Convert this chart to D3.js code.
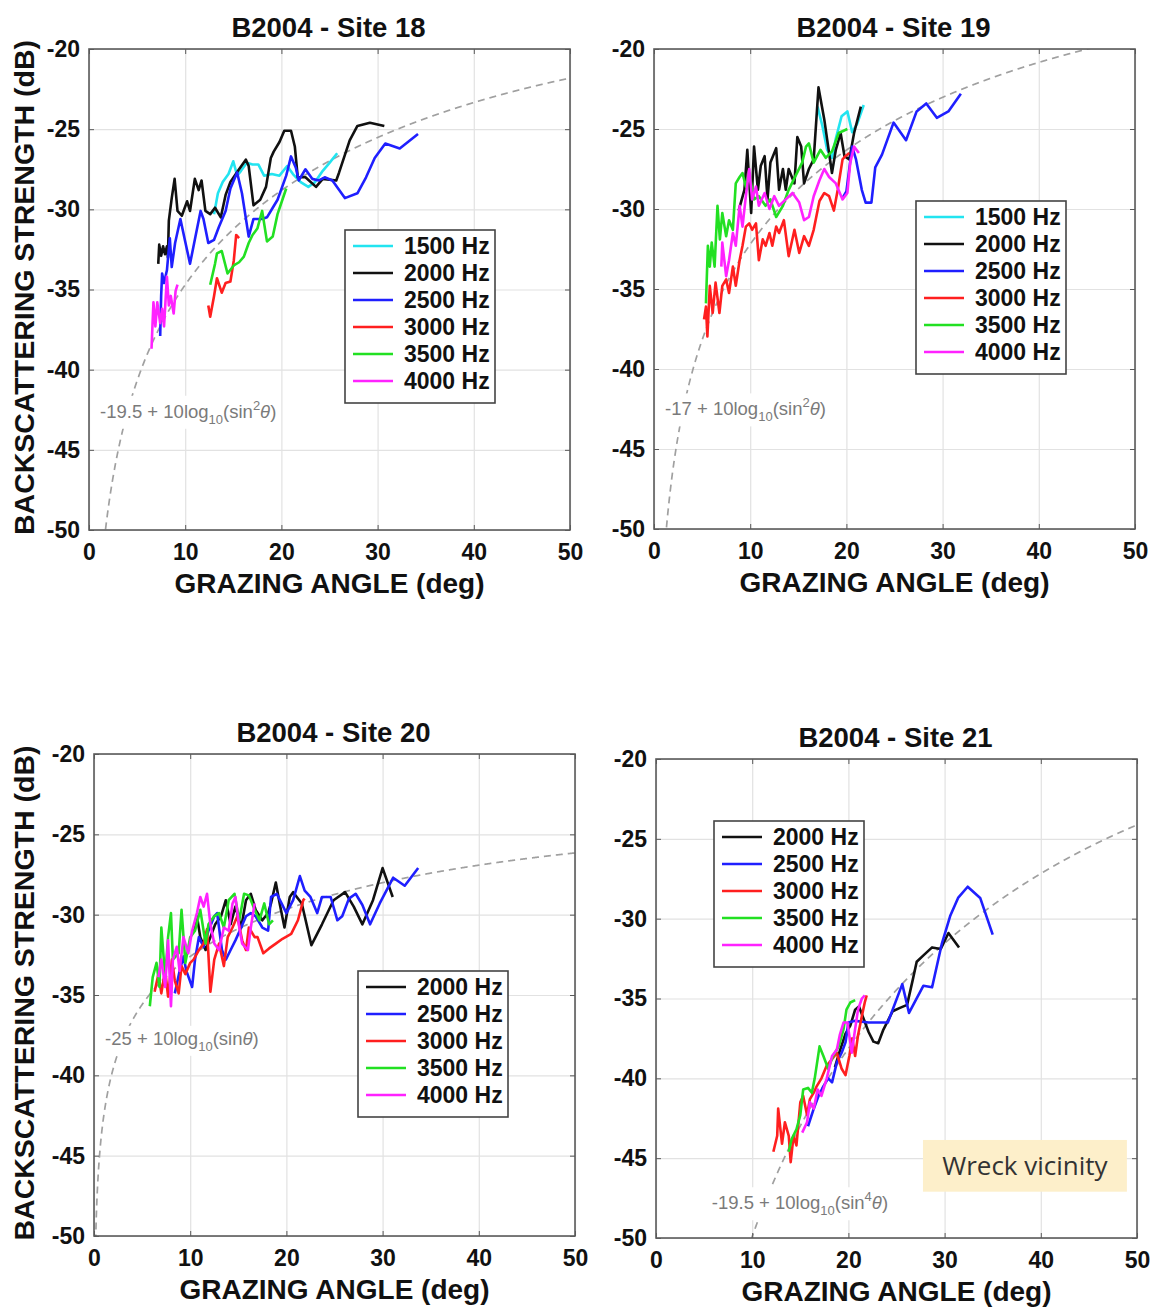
<!DOCTYPE html>
<html>
<head>
<meta charset="utf-8">
<script src="https://cdnjs.cloudflare.com/ajax/libs/d3/7.8.5/d3.min.js"></script>
<style>
  body { margin: 0; background: #fff; }
  text { font-family: "Liberation Sans", Arial, sans-serif; }
</style>
</head>
<body>
<svg id="chart" width="1156" height="1309"></svg>
<script>
const siteTitles = ["B2004 - Site 18", "B2004 - Site 19", "B2004 - Site 20", "B2004 - Site 21"];
const freqLabels = ["1500 Hz", "2000 Hz", "2500 Hz", "3000 Hz", "3500 Hz", "4000 Hz"];
const freqColors = ["#22e4f0", "#111111", "#1f1fff", "#ff1f1f", "#22e022", "#ff22ff"];
const xTicks = [0, 10, 20, 30, 40, 50];
const yTicks = [-20, -25, -30, -35, -40, -45, -50];
const modelOffset = [-19.5, -17, -25, -19.5];
const modelPower = [2, 2, 1, 4];
const noteOffsetText = ["-19.5", "-17", "-25", "-19.5"];
const notePowerText = ["2", "2", "", "4"];

// Site 18
const s18_1500 = [[13.0,-30.3],[13.4,-29.0],[13.9,-28.3],[14.5,-27.8],[15.0,-27.0],[15.4,-27.9],[15.8,-27.6],[16.4,-27.1],[17.0,-27.2],[17.6,-27.2],[18.2,-27.9],[19.0,-27.8],[19.8,-27.9],[20.6,-27.3],[21.2,-27.8],[22.0,-28.3],[22.8,-28.6],[23.5,-28.3],[24.3,-27.6],[25.0,-27.1],[25.8,-26.5]];
const s18_2000 = [[7.2,-33.4],[7.3,-32.2],[7.5,-32.9],[7.7,-32.3],[7.9,-32.8],[8.1,-32.3],[8.2,-33.0],[8.3,-30.7],[8.6,-29.3],[8.9,-28.1],[9.2,-30.1],[9.65,-30.4],[10.2,-29.5],[10.5,-30.1],[11.0,-28.1],[11.4,-28.8],[11.7,-28.2],[12.1,-30.1],[12.6,-30.3],[13.1,-29.9],[13.7,-30.5],[14.2,-29.1],[14.7,-28.3],[15.6,-27.5],[16.3,-26.9],[16.6,-27.3],[17.1,-29.75],[17.8,-29.4],[18.4,-28.6],[18.9,-26.8],[19.2,-26.4],[19.8,-25.8],[20.3,-25.1],[21.0,-25.1],[21.4,-26.1],[21.7,-28.0],[22.5,-28.0],[23.6,-28.6],[24.3,-28.1],[25.7,-28.2],[26.0,-27.7],[27.1,-25.7],[27.9,-24.8],[29.2,-24.6],[30.7,-24.8]];
const s18_2500 = [[7.4,-37.9],[7.5,-35.4],[7.6,-34.0],[7.8,-34.6],[8.1,-33.8],[8.4,-31.8],[8.6,-33.6],[8.95,-32.1],[9.5,-30.6],[10.0,-32.0],[10.5,-33.4],[11.0,-31.9],[11.6,-30.1],[11.9,-30.6],[12.4,-32.1],[13.0,-31.9],[13.5,-31.1],[14.2,-30.1],[14.7,-28.7],[15.4,-27.7],[15.9,-29.0],[16.6,-31.7],[17.1,-30.6],[18.0,-30.6],[18.5,-30.5],[19.1,-29.9],[19.6,-29.4],[20.5,-27.9],[21.0,-26.7],[21.5,-27.4],[21.8,-28.2],[22.5,-27.5],[23.2,-28.1],[23.9,-28.2],[24.5,-28.0],[25.3,-28.2],[26.6,-29.3],[27.9,-29.0],[28.8,-28.0],[29.7,-26.8],[30.8,-25.9],[32.3,-26.2],[34.2,-25.3]];
const s18_3000 = [[12.4,-36.0],[12.6,-36.7],[13.0,-35.4],[13.3,-34.3],[13.8,-35.2],[14.2,-34.6],[14.7,-34.5],[15.05,-33.2],[15.3,-31.6],[15.6,-31.8]];
const s18_3500 = [[12.6,-34.7],[13.1,-33.4],[13.3,-32.75],[13.8,-32.6],[14.4,-34.0],[15.05,-33.5],[15.6,-33.3],[16.1,-32.95],[16.6,-32.1],[17.0,-31.6],[17.5,-31.2],[18.0,-30.1],[18.5,-32.0],[19.1,-31.7],[19.6,-30.3],[20.5,-28.7]];
const s18_4000 = [[6.5,-38.7],[6.6,-37.2],[6.7,-35.8],[6.9,-37.3],[7.1,-35.8],[7.4,-37.1],[7.6,-36.2],[7.8,-37.3],[8.1,-34.2],[8.3,-36.0],[8.5,-35.4],[8.8,-36.5],[9.0,-35.1],[9.2,-34.7]];

// Site 19
const s19_1500 = [[17.0,-23.6],[17.5,-24.8],[18.0,-26.3],[18.5,-26.8],[18.9,-25.6],[19.5,-24.2],[20.1,-23.9],[20.6,-25.2],[21.1,-24.7],[21.8,-23.5]];
const s19_2000 = [[8.8,-30.1],[9.4,-28.8],[9.7,-26.3],[10.1,-30.25],[10.4,-26.1],[10.8,-28.8],[11.1,-27.3],[11.5,-26.7],[11.8,-29.4],[12.1,-27.1],[12.7,-26.2],[13.0,-28.8],[13.4,-27.5],[13.7,-28.8],[14.0,-27.5],[14.6,-28.4],[14.9,-25.5],[15.3,-26.1],[15.6,-28.4],[16.1,-27.5],[16.6,-26.9],[17.1,-22.4],[17.7,-24.4],[18.2,-26.5],[18.5,-27.75],[18.9,-26.3],[19.4,-25.25],[19.8,-26.7],[20.3,-26.9],[20.8,-25.25],[21.5,-23.6]];
const s19_2500 = [[19.6,-29.3],[20.0,-28.9],[20.3,-27.5],[20.6,-26.1],[21.0,-26.9],[21.6,-28.8],[22.0,-29.6],[22.6,-29.6],[23.0,-27.4],[23.7,-26.6],[24.9,-24.6],[26.2,-25.7],[27.3,-23.9],[28.3,-23.4],[29.4,-24.3],[30.6,-23.9],[31.9,-22.8]];
const s19_3000 = [[5.2,-36.9],[5.4,-36.1],[5.55,-37.96],[5.8,-34.8],[6.1,-36.5],[6.4,-34.6],[6.8,-36.5],[7.1,-34.8],[7.5,-34.4],[7.8,-35.25],[8.2,-33.6],[8.5,-34.8],[8.9,-33.2],[9.2,-32.3],[9.55,-31.1],[9.9,-30.9],[10.2,-31.3],[10.6,-30.9],[10.9,-33.2],[11.3,-31.9],[11.6,-32.3],[12.0,-31.5],[12.3,-32.3],[12.7,-31.1],[13.0,-31.5],[13.5,-30.7],[14.0,-32.95],[14.6,-31.3],[15.1,-32.75],[15.6,-31.7],[16.1,-32.3],[16.6,-31.3],[17.2,-29.5],[17.7,-29.0],[18.2,-29.2],[18.7,-30.1],[19.1,-28.8],[19.6,-26.9],[19.9,-26.7],[20.3,-26.5]];
const s19_3500 = [[5.4,-35.9],[5.6,-32.3],[5.8,-33.6],[6.0,-32.1],[6.3,-33.6],[6.6,-29.8],[6.85,-31.9],[7.1,-30.25],[7.5,-31.7],[7.8,-30.7],[8.2,-31.3],[8.5,-28.4],[8.9,-28.0],[9.2,-27.75],[9.55,-28.6],[9.9,-27.75],[10.4,-29.4],[10.9,-29.2],[11.6,-29.8],[12.1,-29.4],[12.7,-30.5],[13.4,-29.8],[14.0,-28.8],[14.7,-27.95],[15.4,-27.1],[15.8,-26.1],[16.1,-25.9],[16.6,-27.1],[17.3,-26.3],[17.85,-26.8],[18.5,-26.4],[19.2,-25.25],[20.1,-25.0]];
const s19_4000 = [[7.0,-33.6],[7.1,-32.1],[7.5,-34.2],[7.8,-33.2],[8.2,-31.5],[8.5,-32.3],[8.9,-29.8],[9.2,-31.1],[9.55,-29.2],[9.9,-27.5],[10.2,-29.4],[10.6,-28.6],[10.9,-29.8],[11.5,-29.0],[12.0,-30.0],[12.5,-29.2],[13.0,-29.8],[13.7,-29.4],[14.4,-29.0],[15.1,-29.6],[15.6,-30.7],[16.1,-30.5],[16.6,-29.2],[17.2,-28.2],[17.7,-27.5],[18.2,-28.0],[18.9,-28.4],[19.6,-29.4],[20.1,-29.0],[20.4,-27.1],[20.8,-26.1],[21.3,-26.5]];

// Site 20
const s20_2000 = [[10.35,-31.0],[10.7,-30.1],[11.05,-31.4],[11.6,-32.2],[12.1,-31.4],[12.6,-30.6],[13.2,-30.1],[13.7,-29.1],[14.2,-30.6],[14.7,-29.5],[15.3,-30.8],[15.8,-29.1],[16.3,-28.7],[16.8,-29.7],[17.5,-30.35],[18.1,-29.9],[18.4,-29.3],[18.9,-28.0],[19.3,-29.3],[19.8,-30.8],[20.35,-28.9],[20.7,-28.6],[21.6,-29.3],[22.6,-31.9],[23.7,-30.6],[24.9,-29.1],[26.1,-28.6],[27.0,-29.5],[27.9,-30.6],[29.0,-29.1],[30.0,-27.1],[31.05,-28.9]];
const s20_2500 = [[8.4,-34.9],[8.9,-33.5],[9.3,-32.6],[9.6,-33.5],[10.2,-34.5],[10.5,-32.8],[10.9,-31.4],[11.4,-32.0],[11.9,-31.0],[12.5,-30.1],[12.8,-29.9],[13.3,-32.2],[13.7,-32.8],[14.2,-32.2],[14.7,-31.6],[15.3,-30.8],[15.8,-30.1],[16.3,-29.9],[16.8,-30.1],[17.5,-30.8],[18.1,-31.0],[18.4,-28.9],[19.0,-28.7],[19.5,-29.3],[20.0,-29.9],[20.7,-29.1],[21.4,-27.6],[21.9,-28.5],[22.5,-28.9],[23.2,-29.9],[23.7,-28.9],[24.6,-28.9],[25.3,-30.35],[25.8,-30.1],[26.5,-29.0],[27.2,-28.7],[27.9,-29.4],[28.7,-30.6],[29.7,-29.3],[31.1,-27.7],[32.3,-28.2],[33.7,-27.1]];
const s20_3000 = [[6.3,-34.8],[6.7,-33.7],[7.0,-34.9],[7.4,-33.45],[7.7,-35.1],[8.1,-32.8],[8.4,-34.1],[8.8,-34.9],[9.1,-33.2],[9.5,-33.7],[10.0,-33.0],[10.35,-32.8],[10.9,-32.2],[11.4,-31.8],[11.75,-30.9],[12.1,-34.8],[12.5,-32.8],[13.0,-31.8],[13.5,-33.2],[13.9,-31.4],[14.4,-30.8],[14.9,-30.1],[15.4,-31.6],[15.8,-32.2],[16.1,-30.8],[16.7,-31.4],[17.0,-31.4],[17.6,-32.4],[18.2,-32.1],[18.9,-31.8],[19.6,-31.5],[20.5,-31.2],[21.2,-30.35],[21.75,-29.1],[21.9,-29.0]];
const s20_3500 = [[5.8,-35.7],[6.1,-33.9],[6.5,-33.0],[6.8,-34.5],[7.0,-30.8],[7.4,-33.9],[7.7,-31.4],[8.0,-29.9],[8.2,-32.8],[8.8,-32.4],[9.1,-29.7],[9.5,-33.0],[10.0,-31.4],[10.5,-31.0],[11.05,-29.7],[11.6,-31.8],[11.9,-30.6],[12.5,-30.1],[13.0,-29.9],[13.5,-30.8],[14.0,-29.1],[14.6,-28.7],[15.1,-30.35],[15.6,-28.7],[16.1,-28.8],[16.7,-29.7],[17.2,-30.35],[17.7,-29.3],[18.2,-30.6],[18.6,-30.35]];
const s20_4000 = [[6.7,-33.9],[7.0,-32.8],[7.4,-34.5],[7.7,-31.6],[8.0,-35.7],[8.2,-32.8],[8.6,-32.0],[8.9,-33.5],[9.3,-31.4],[9.8,-32.4],[10.2,-31.0],[10.7,-29.9],[11.05,-28.9],[11.4,-29.5],[11.75,-28.7],[12.1,-30.6],[12.5,-31.8],[13.0,-32.2],[13.5,-30.8],[14.0,-31.0],[14.4,-29.3],[14.7,-28.9],[15.1,-30.8],[15.4,-31.8],[16.0,-32.2],[16.3,-30.8],[16.7,-29.3]];

// Site 21
const s21_2000 = [[18.6,-39.3],[19.1,-38.3],[19.7,-37.2],[20.2,-36.7],[20.7,-35.7],[21.1,-35.5],[21.6,-36.3],[22.1,-37.1],[22.6,-37.7],[23.1,-37.8],[23.6,-37.0],[24.6,-35.8],[25.3,-35.6],[26.1,-35.4],[26.7,-33.8],[27.1,-32.7],[27.8,-32.3],[28.7,-31.8],[29.6,-31.9],[30.4,-30.9],[31.5,-31.8]];
const s21_2500 = [[15.8,-43.0],[16.4,-41.9],[16.9,-41.1],[17.4,-40.5],[17.9,-40.0],[18.3,-40.25],[18.8,-39.0],[19.3,-38.4],[19.7,-37.75],[20.0,-36.5],[20.7,-36.4],[22.1,-36.5],[24.1,-36.5],[25.6,-34.1],[26.3,-35.9],[27.8,-34.2],[28.7,-34.3],[29.7,-31.6],[30.6,-29.8],[31.4,-28.7],[32.4,-28.0],[33.7,-28.7],[35.0,-31.0]];
const s21_3000 = [[12.2,-44.6],[12.6,-43.6],[12.7,-41.9],[13.1,-44.1],[13.4,-42.75],[13.8,-43.6],[14.0,-45.25],[14.3,-43.6],[14.6,-44.2],[15.0,-41.5],[15.3,-41.1],[15.7,-42.3],[16.0,-41.3],[16.4,-40.9],[16.7,-40.5],[17.2,-40.0],[17.75,-39.2],[18.3,-38.8],[18.8,-38.4],[19.3,-39.4],[19.7,-39.8],[20.1,-38.6],[20.4,-37.5],[20.7,-38.6],[21.0,-37.3],[21.4,-36.1],[21.7,-35.25],[21.9,-34.8]];
const s21_3500 = [[13.8,-44.6],[14.1,-43.8],[14.6,-43.2],[15.0,-42.3],[15.3,-40.7],[15.8,-40.6],[16.2,-40.9],[16.5,-40.0],[17.0,-38.0],[17.4,-38.6],[17.9,-39.4],[18.4,-38.6],[19.0,-38.0],[19.5,-36.9],[19.8,-35.7],[20.2,-35.25],[20.7,-35.1]];
const s21_4000 = [[15.2,-43.4],[15.7,-42.75],[16.0,-41.5],[16.4,-41.9],[16.8,-40.7],[17.2,-41.1],[17.75,-40.0],[18.3,-38.6],[18.8,-38.2],[19.1,-37.3],[19.5,-36.5],[19.9,-36.5],[20.35,-38.4],[20.7,-36.9],[21.0,-35.7],[21.4,-35.0],[21.7,-34.8]];

const siteSeries = [
  [s18_1500, s18_2000, s18_2500, s18_3000, s18_3500, s18_4000],
  [s19_1500, s19_2000, s19_2500, s19_3000, s19_3500, s19_4000],
  [null, s20_2000, s20_2500, s20_3000, s20_3500, s20_4000],
  [null, s21_2000, s21_2500, s21_3000, s21_3500, s21_4000]
];

// pixel boxes of the four axes, legend corners, note anchors (data coords)
const layout = [
  { l: 89,  r: 570,  t: 49,  b: 530,  leg: [345, 230], ylab: true,  note: [1.15, -43.0] },
  { l: 654, r: 1135, t: 49,  b: 529,  leg: [916, 201], ylab: false, note: [1.15, -42.9] },
  { l: 94,  r: 575,  t: 754, b: 1236, leg: [358, 971], ylab: true,  note: [1.15, -38.1] },
  { l: 656, r: 1137, t: 759, b: 1238, leg: [714, 821], ylab: false, note: [5.8, -48.2] }
];

const svg = d3.select("#chart");

layout.forEach(function (L, i) {
  const x = d3.scaleLinear().domain([0, 50]).range([L.l, L.r]);
  const y = d3.scaleLinear().domain([-50, -20]).range([L.b, L.t]);
  const g = svg.append("g");

  svg.append("clipPath").attr("id", "clip" + i)
    .append("rect")
    .attr("x", L.l).attr("y", L.t)
    .attr("width", L.r - L.l).attr("height", L.b - L.t);

  // grid
  g.append("g")
    .attr("transform", "translate(0," + L.b + ")")
    .call(d3.axisBottom(x).tickValues(xTicks).tickSize(-(L.b - L.t)).tickFormat(""))
    .call(s => { s.select(".domain").remove(); s.selectAll("line").attr("stroke", "#e2e2e2").attr("stroke-width", 1.2); });
  g.append("g")
    .attr("transform", "translate(" + L.l + ",0)")
    .call(d3.axisLeft(y).tickValues(yTicks).tickSize(-(L.r - L.l)).tickFormat(""))
    .call(s => { s.select(".domain").remove(); s.selectAll("line").attr("stroke", "#e2e2e2").attr("stroke-width", 1.2); });

  // model curve
  const angles = d3.range(0.02, 50.001, 0.02);
  const model = angles.map(a => [a, modelOffset[i] + modelPower[i] * 10 * Math.log10(Math.sin(a * Math.PI / 180))])
    .filter(d => d[1] >= -53);
  const line = d3.line().x(d => x(d[0])).y(d => y(d[1]));
  g.append("path")
    .attr("clip-path", "url(#clip" + i + ")")
    .attr("d", line(model))
    .attr("fill", "none")
    .attr("stroke", "#a0a0a0")
    .attr("stroke-width", 1.7)
    .attr("stroke-dasharray", "7,5");

  // formula note with white background
  const note = g.append("text")
    .attr("x", x(L.note[0])).attr("y", y(L.note[1]))
    .attr("font-size", 18.5).attr("fill", "#7a7a7a");
  note.append("tspan").text(noteOffsetText[i] + " + 10log");
  note.append("tspan").attr("font-size", 13).attr("dy", 6).text("10");
  note.append("tspan").attr("dy", -6).text("(sin");
  if (notePowerText[i]) {
    note.append("tspan").attr("font-size", 13).attr("dy", -8).text(notePowerText[i]);
    note.append("tspan").attr("dy", 8).attr("font-style", "italic").text("θ");
  } else {
    note.append("tspan").attr("font-style", "italic").text("θ");
  }
  note.append("tspan").text(")");
  const nb = note.node().getBBox();
  g.insert("rect", function () { return note.node(); })
    .attr("x", nb.x - 3).attr("y", nb.y - 2)
    .attr("width", nb.width + 6).attr("height", nb.height + 4)
    .attr("fill", "#fff");

  // data lines
  siteSeries[i].forEach(function (s, k) {
    if (!s) return;
    g.append("path")
      .attr("clip-path", "url(#clip" + i + ")")
      .attr("d", line(s))
      .attr("fill", "none")
      .attr("stroke", freqColors[k])
      .attr("stroke-width", 2.6)
      .attr("stroke-linejoin", "round");
  });

  // box and inner ticks
  g.append("rect")
    .attr("x", L.l).attr("y", L.t)
    .attr("width", L.r - L.l).attr("height", L.b - L.t)
    .attr("fill", "none").attr("stroke", "#5a5a5a").attr("stroke-width", 1.6);
  const tickStyle = s => { s.select(".domain").remove(); s.selectAll("line").attr("stroke", "#5a5a5a"); s.selectAll("text").remove(); };
  g.append("g").attr("transform", "translate(0," + L.b + ")").call(d3.axisBottom(x).tickValues(xTicks).tickSize(-5)).call(tickStyle);
  g.append("g").attr("transform", "translate(0," + L.t + ")").call(d3.axisTop(x).tickValues(xTicks).tickSize(-5)).call(tickStyle);
  g.append("g").attr("transform", "translate(" + L.l + ",0)").call(d3.axisLeft(y).tickValues(yTicks).tickSize(-5)).call(tickStyle);
  g.append("g").attr("transform", "translate(" + L.r + ",0)").call(d3.axisRight(y).tickValues(yTicks).tickSize(-5)).call(tickStyle);

  // tick labels
  const lab = s => { s.select(".domain").remove(); s.selectAll("line").remove(); s.selectAll("text").attr("font-size", 23).attr("font-weight", "bold").attr("fill", "#111").style("font-family", '"Liberation Sans", Arial, sans-serif'); };
  g.append("g").attr("transform", "translate(0," + L.b + ")")
    .call(d3.axisBottom(x).tickValues(xTicks).tickSize(0).tickPadding(14).tickFormat(d3.format("d")))
    .call(lab);
  g.append("g").attr("transform", "translate(" + L.l + ",0)")
    .call(d3.axisLeft(y).tickValues(yTicks).tickSize(0).tickPadding(9).tickFormat(d3.format("d")))
    .call(lab);
  g.selectAll("text").filter(function () { return this.textContent.indexOf("−") >= 0; })
    .text(function () { return this.textContent.replace("−", "-"); });

  // title and axis labels
  g.append("text")
    .attr("x", (L.l + L.r) / 2 - 1).attr("y", L.t - 12)
    .attr("text-anchor", "middle").attr("font-size", 27.5).attr("font-weight", "bold").attr("fill", "#111")
    .text(siteTitles[i]);
  g.append("text")
    .attr("x", (L.l + L.r) / 2).attr("y", L.b + 63)
    .attr("text-anchor", "middle").attr("font-size", 28).attr("font-weight", "bold").attr("fill", "#111")
    .text("GRAZING ANGLE (deg)");
  if (L.ylab) {
    g.append("text")
      .attr("transform", "translate(34," + ((L.t + L.b) / 2 - 2) + ") rotate(-90)")
      .attr("text-anchor", "middle").attr("font-size", 28.5).attr("font-weight", "bold").attr("fill", "#111")
      .text("BACKSCATTERING STRENGTH (dB)");
  }

  // legend
  const keys = d3.range(freqLabels.length).filter(k => siteSeries[i][k]);
  const lg = g.append("g").attr("transform", "translate(" + L.leg[0] + "," + L.leg[1] + ")");
  lg.append("rect")
    .attr("width", 150).attr("height", 16 + keys.length * 27 - 5)
    .attr("fill", "#fff").attr("stroke", "#444").attr("stroke-width", 1.6);
  keys.forEach(function (k, j) {
    const cy = 16 + j * 27;
    lg.append("line").attr("x1", 8).attr("x2", 48).attr("y1", cy).attr("y2", cy)
      .attr("stroke", freqColors[k]).attr("stroke-width", 2.6);
    lg.append("text").attr("x", 59).attr("y", cy).attr("dy", "0.36em")
      .attr("font-size", 23).attr("font-weight", "bold").attr("fill", "#111")
      .text(freqLabels[k]);
  });

  // annotation box for site 21
  if (i === 3) {
    g.append("rect")
      .attr("x", x(27.75)).attr("y", y(-43.86))
      .attr("width", x(48.95) - x(27.75)).attr("height", y(-47.1) - y(-43.86))
      .attr("fill", "#fdefca");
    g.append("text")
      .attr("x", (x(27.75) + x(48.95)) / 2).attr("y", (y(-43.86) + y(-47.1)) / 2)
      .attr("dy", "0.36em").attr("text-anchor", "middle")
      .attr("font-size", 26).attr("fill", "#333")
      .style("font-family", '"Open Sans", "Noto Sans", sans-serif')
      .text("Wreck vicinity");
  }
});
</script>
</body>
</html>
